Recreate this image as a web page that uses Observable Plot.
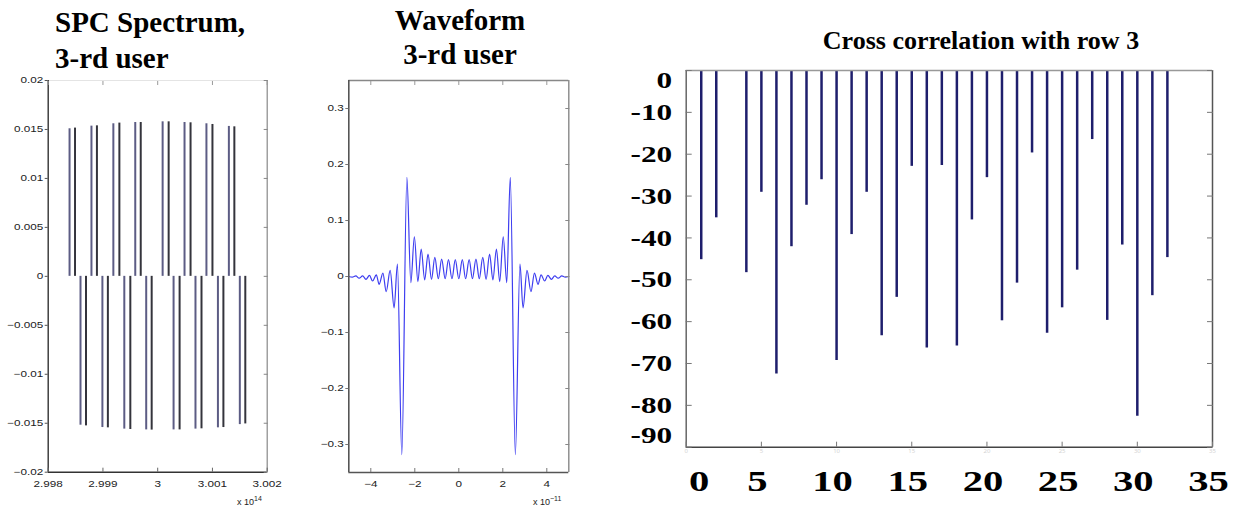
<!DOCTYPE html>
<html><head><meta charset="utf-8">
<script src="https://cdn.jsdelivr.net/npm/d3@7"></script>
<script src="https://cdn.jsdelivr.net/npm/@observablehq/plot@0.6"></script>
<style>
body{margin:0;background:#fff;}
#root{position:relative;width:1233px;height:511px;overflow:hidden;background:#fff;}
.t{position:absolute;font-family:"Liberation Serif","Times New Roman",serif;font-weight:bold;color:#000;white-space:nowrap;line-height:1;}
.p{position:absolute;}
.e{position:absolute;font-family:"Liberation Sans",Arial,sans-serif;font-size:9px;color:#222;white-space:nowrap;line-height:1;}
.e sup{font-size:7px;vertical-align:4px;}
</style></head><body><div id="root"></div>
<script>
// ---------- Panel 1: SPC spectrum (x in units of 1e14 Hz) ----------
const specFreq = [2.99839, 2.99849, 2.99859, 2.99869, 2.99879, 2.99889, 2.99899, 2.99909,
                  2.99919, 2.99930, 2.99939, 2.99950, 2.99959, 2.99969, 2.99979, 2.99989,
                  3.00009, 3.00020, 3.00029, 3.00040, 3.00049, 3.00060, 3.00069, 3.00080,
                  3.00089, 3.00100, 3.00110, 3.00120, 3.00130, 3.00140, 3.00150, 3.00160];
const specAmp = [0.01507, 0.01514, -0.01520, -0.01527, 0.01534, 0.01537, -0.01544, -0.01547,
                 0.01558, 0.01565, -0.01560, -0.01564, 0.01571, 0.01571, -0.01568, -0.01570,
                 0.01578, 0.01578, -0.01568, -0.01568, 0.01571, 0.01568, -0.01560, -0.01557,
                 0.01558, 0.01551, -0.01547, -0.01544, 0.01531, 0.01527, -0.01514, -0.01507];
const specXDomain = [2.998, 3.002];
const specYDomain = [-0.02, 0.02];
const specXTicks = [2.998, 2.999, 3, 3.001, 3.002];
const specYTicks = [-0.02, -0.015, -0.01, -0.005, 0, 0.005, 0.01, 0.015, 0.02];

// ---------- Panel 2: waveform (x in units of 1e-11 s) ----------
const waveT = [-5.00, -4.84, -4.68, -4.53, -4.37, -4.22, -4.06, -3.92, -3.75, -3.62, -3.45, -3.30,
               -3.12, -2.94, -2.79, -2.59, -2.36, -2.18, -2.02, -1.86, -1.71, -1.55, -1.40, -1.24,
               -1.09, -0.93, -0.78, -0.62, -0.47, -0.31, -0.16, 0.00,
               0.16, 0.31, 0.47, 0.62, 0.78, 0.93, 1.09, 1.24, 1.40, 1.55, 1.71, 1.86, 2.02, 2.18,
               2.34, 2.57, 2.78, 2.92, 3.10, 3.28, 3.44, 3.60, 3.74, 3.90, 4.05, 4.21, 4.36, 4.52,
               4.68, 4.84, 5.00];
const waveV = [0.000, -0.001, 0.001, -0.003, 0.001, -0.005, 0.002, -0.008, 0.003, -0.014, 0.006, -0.027,
               0.011, -0.056, 0.022, -0.318, 0.177, -0.011, 0.071, -0.009, 0.049, -0.006, 0.040, -0.005,
               0.034, -0.004, 0.031, -0.004, 0.030, -0.004, 0.030, -0.004,
               0.030, -0.004, 0.030, -0.004, 0.031, -0.004, 0.034, -0.005, 0.040, -0.006, 0.049, -0.009, 0.071, -0.011,
               0.177, -0.318, 0.022, -0.056, 0.011, -0.027, 0.006, -0.014, 0.003, -0.008, 0.002, -0.005, 0.001, -0.003,
               0.001, -0.001, 0.000];
const waveXDomain = [-5, 5];
const waveYDomain = [-0.35, 0.35];
const waveXTicks = [-4, -2, 0, 2, 4];
const waveYTicks = [-0.3, -0.2, -0.1, 0, 0.1, 0.2, 0.3];

// ---------- Panel 3: cross correlation ----------
const lagIndex = [1, 2, 4, 5, 6, 7, 8, 9, 10, 11, 12, 13, 14, 15, 16, 17, 18, 19, 20, 21, 22, 23, 24, 25, 26, 27, 28, 29, 30, 31, 32];
const corrDb = [-45.2, -35.2, -48.3, -29.1, -72.5, -42.1, -32.2, -26.1, -69.3, -39.2, -29.1, -63.4, -54.2, -22.9, -66.3,
                -22.7, -65.8, -35.7, -25.6, -59.8, -50.8, -19.7, -62.8, -56.7, -47.7, -16.5, -59.7, -41.7, -82.6, -53.8, -44.7];
const corrXDomain = [0, 35];
const corrYDomain = [-90, 0];
const corrXTicks = [0, 5, 10, 15, 20, 25, 30, 35];
const corrYTicks = [0, -10, -20, -30, -40, -50, -60, -70, -80, -90];

const root = document.getElementById("root");
function place(el, left, top) { el.classList.add("p"); el.style.left = left + "px"; el.style.top = top + "px"; root.appendChild(el); return el; }
function addText(html, cls, style) { const d = document.createElement("div"); d.className = cls; d.innerHTML = html; Object.assign(d.style, style); root.appendChild(d); return d; }
function stretch(svg, sx) {
  svg.querySelectorAll('g[aria-label$="tick label"] text').forEach(t => {
    const w = t.getComputedTextLength();
    if (w > 0) { t.setAttribute("textLength", (w * sx).toFixed(2)); t.setAttribute("lengthAdjust", "spacingAndGlyphs"); }
  });
}
const minusFmt = d => d === 0 ? "0" : (d < 0 ? "\u2212" : "") + String(+Math.abs(d).toFixed(4));
const small = {fontFamily: "Liberation Sans, Arial, sans-serif", fontSize: 9, fill: "#222", label: null};
const bare = {fill: "none", label: null};

// Panel 1
const specData = specFreq.map((f, i) => ({f, a: specAmp[i], k: i % 2}));
const p1 = Plot.plot({
  width: 290, height: 450, marginLeft: 47.7, marginRight: 23.3, marginTop: 20, marginBottom: 38.3,
  x: {domain: specXDomain, axis: null}, y: {domain: specYDomain, axis: null},
  style: {background: "transparent", overflow: "visible"},
  marks: [
    Plot.ruleX(specData.filter(d => d.k === 0), {x: "f", y1: 0, y2: "a", stroke: "#5c5c84", strokeWidth: 2}),
    Plot.ruleX(specData.filter(d => d.k === 1), {x: "f", y1: 0, y2: "a", stroke: "#34343c", strokeWidth: 2}),
    Plot.ruleY([specYDomain[1]], {stroke: "#e4e4e4", strokeWidth: 1}),
    Plot.ruleX([specXDomain[1]], {stroke: "#888", strokeWidth: 1.2}),
    Plot.ruleX([specXDomain[0]], {stroke: "#333", strokeWidth: 1.4}),
    Plot.ruleY([specYDomain[0]], {stroke: "#333", strokeWidth: 1.4}),
    Plot.axisY(specYTicks, {anchor: "left", tickSize: 3, tickPadding: 2, tickFormat: minusFmt, stroke: "#555", ...small}),
    Plot.axisY(specYTicks, {anchor: "right", tickSize: -4, stroke: "#888", ...bare}),
    Plot.axisX(specXTicks, {anchor: "bottom", tickSize: -4, stroke: "#666", ...bare}),
    Plot.axisX(specXTicks, {anchor: "top", tickSize: -4, stroke: "#999", ...bare}),
    Plot.axisX(specXTicks, {anchor: "bottom", tickSize: 0, tickPadding: 8, tickFormat: d => d === 3 ? "3" : d.toFixed(3), ...small})
  ]
});
place(p1, 0, 60);
stretch(p1, 1.3);

// Panel 2
const waveData = waveT.map((t, i) => ({t, v: waveV[i]}));
const p2 = Plot.plot({
  width: 300, height: 450, marginLeft: 58.3, marginRight: 21.7, marginTop: 20, marginBottom: 38,
  x: {domain: waveXDomain, axis: null}, y: {domain: waveYDomain, axis: null},
  style: {background: "transparent", overflow: "visible"},
  marks: [
    Plot.line(waveData, {x: "t", y: "v", stroke: "#3e3ef0", strokeWidth: 1.2, curve: "monotone-x"}),
    Plot.ruleY([waveYDomain[1]], {stroke: "#888", strokeWidth: 1.4}),
    Plot.ruleX([waveXDomain[1]], {stroke: "#888", strokeWidth: 1.4}),
    Plot.ruleX([waveXDomain[0]], {stroke: "#555", strokeWidth: 1.6}),
    Plot.ruleY([waveYDomain[0]], {stroke: "#555", strokeWidth: 1.6}),
    Plot.axisY(waveYTicks, {anchor: "left", tickSize: 3, tickPadding: 2, tickFormat: minusFmt, stroke: "#777", ...small}),
    Plot.axisY(waveYTicks, {anchor: "right", tickSize: -4, stroke: "#888", ...bare}),
    Plot.axisX(waveXTicks, {anchor: "bottom", tickSize: -4, stroke: "#777", ...bare}),
    Plot.axisX(waveXTicks, {anchor: "top", tickSize: -4, stroke: "#999", ...bare}),
    Plot.axisX(waveXTicks, {anchor: "bottom", tickSize: 0, tickPadding: 8, tickFormat: minusFmt, ...small})
  ]
});
place(p2, 290, 60);
stretch(p2, 1.3);

// Panel 3
const corrData = lagIndex.map((x, i) => ({x, v: corrDb[i]}));
const big = {fontFamily: "Liberation Serif, Times New Roman, serif", fontWeight: "bold", fill: "#000", label: null, tickSize: 0, tickFormat: d => String(d)};
const p3 = Plot.plot({
  width: 633, height: 461, marginLeft: 85.7, marginRight: 21, marginTop: 20, marginBottom: 64.3,
  x: {domain: corrXDomain, axis: null}, y: {domain: corrYDomain, axis: null},
  style: {background: "transparent", overflow: "visible"},
  marks: [
    Plot.ruleX(corrData, {x: "x", y1: 0, y2: "v", stroke: "#1e1e6c", strokeWidth: 2.5}),
    Plot.ruleY([corrYDomain[1]], {stroke: "#999", strokeWidth: 1.4}),
    Plot.ruleX([corrXDomain[1]], {stroke: "#555", strokeWidth: 1.5}),
    Plot.ruleX([corrXDomain[0]], {stroke: "#666", strokeWidth: 1.5}),
    Plot.ruleY([corrYDomain[0]], {stroke: "#444", strokeWidth: 1.6}),
    Plot.axisY(corrYTicks, {anchor: "left", tickSize: -6, stroke: "#777", ...bare}),
    Plot.axisY(corrYTicks, {anchor: "right", tickSize: -6, stroke: "#777", ...bare}),
    Plot.axisX(corrXTicks, {anchor: "bottom", tickSize: -5, stroke: "#777", ...bare}),
    Plot.axisX(corrXTicks, {anchor: "bottom", tickSize: 0, tickPadding: 2, fontSize: 6, fill: "#d4d4d4", label: null}),
    Plot.axisY(corrYTicks.slice(1, -1), {anchor: "left", tickPadding: 14, fontSize: 24, ...big}),
    Plot.axisY([corrYTicks[0]], {anchor: "left", tickPadding: 14, dy: 10, fontSize: 24, ...big}),
    Plot.axisY([corrYTicks[corrYTicks.length - 1]], {anchor: "left", tickPadding: 14, dy: -12, fontSize: 24, ...big}),
    Plot.axisX([corrXTicks[0]], {anchor: "bottom", tickPadding: 23, dx: 13, fontSize: 29, ...big}),
    Plot.axisX(corrXTicks.slice(1), {anchor: "bottom", tickPadding: 23, dx: -4, fontSize: 29, ...big})
  ]
});
place(p3, 600, 50);
p3.querySelectorAll('g[aria-label$="tick label"] text').forEach(t => {
  const fs = parseFloat(getComputedStyle(t).fontSize);
  const sx = fs > 20 ? (fs > 26 ? 1.4 : 1.3) : 1;
  if (sx > 1) { const w = t.getComputedTextLength(); t.setAttribute("textLength", (w * sx).toFixed(2)); t.setAttribute("lengthAdjust", "spacingAndGlyphs"); }
});

// Titles and exponent labels
addText("SPC Spectrum,", "t", {left: "55px", top: "7.7px", fontSize: "29px"});
addText("3-rd user", "t", {left: "55px", top: "43.7px", fontSize: "29px"});
addText("Waveform", "t", {left: "360px", width: "200px", textAlign: "center", top: "5.7px", fontSize: "29px"});
addText("3-rd user", "t", {left: "360px", width: "200px", textAlign: "center", top: "39.7px", fontSize: "29px"});
addText("Cross correlation with row 3", "t", {left: "781px", width: "400px", textAlign: "center", top: "28.2px", fontSize: "26px"});
addText("x 10<sup>14</sup>", "e", {left: "237px", top: "495px"});
addText("x 10<sup>\u221211</sup>", "e", {left: "533px", top: "495px"});
</script>
</body></html>
